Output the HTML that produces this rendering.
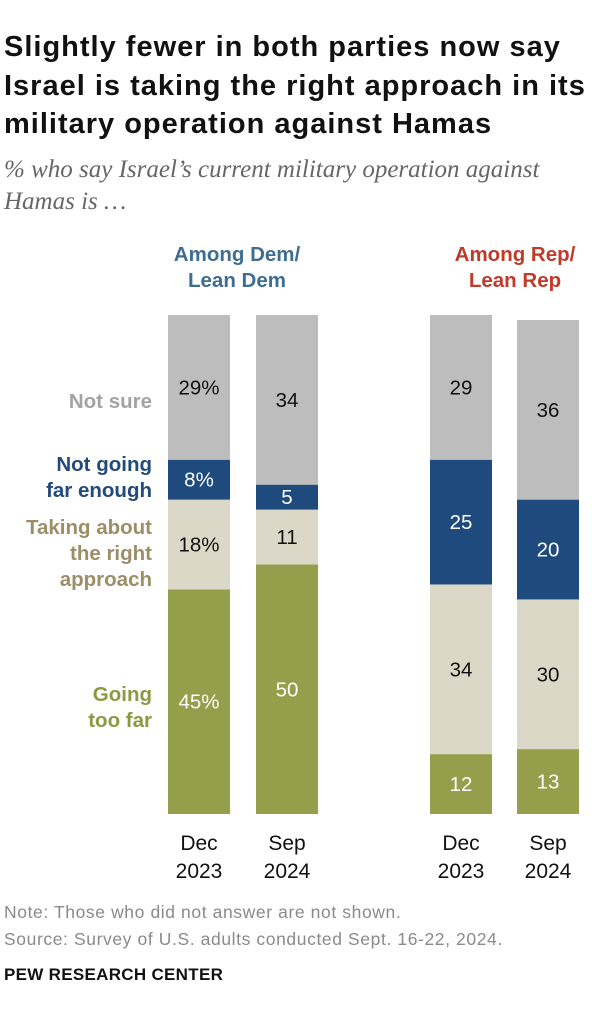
<!DOCTYPE html>
<html><head><meta charset="utf-8"><style>
body{margin:0;background:#fff;width:610px;height:1023px;overflow:hidden;font-family:"Liberation Sans",sans-serif;}
#title{position:absolute;left:4px;top:28px;font-size:29px;font-weight:bold;line-height:38.5px;color:#111;margin:0;white-space:nowrap;letter-spacing:1px;}
#sub{position:absolute;left:4px;top:154px;font-size:25px;font-style:italic;color:#666;line-height:32px;font-family:"Liberation Serif",serif;white-space:nowrap;}
svg{position:absolute;left:0;top:0;}
.note{position:absolute;left:4px;font-size:17.5px;color:#8a8a8a;letter-spacing:0.6px;white-space:nowrap;}
#brand{position:absolute;left:4px;top:965px;font-size:17px;font-weight:bold;color:#111;letter-spacing:0.3px;}
</style></head><body>
<h1 id="title">Slightly fewer in both parties now say<br>Israel is taking the right approach in its<br>military operation against Hamas</h1>
<div id="sub">% who say Israel’s current military operation against<br>Hamas is …</div>
<svg id="chart" width="610" height="1023"></svg>
<div class="note" style="top:902px">Note: Those who did not answer are not shown.</div>
<div class="note" style="top:929px">Source: Survey of U.S. adults conducted Sept. 16-22, 2024.</div>
<div id="brand">PEW RESEARCH CENTER</div>
<script>
const barLabels=["Dec|2023","Sep|2024","Dec|2023","Sep|2024"];
const goingTooFar=[45,50,12,13];
const rightApproach=[18,11,34,30];
const notFarEnough=[8,5,25,20];
const notSure=[29,34,29,36];
const showPct=[true,false,false,false];
const NS="http://www.w3.org/2000/svg";
const svg=document.getElementById('chart');
const xLeft=[168,256,430,517], bw=62, base=814, unit=4.99;
const y=v=>base-v*unit;
const series=[[goingTooFar,'#949e4b','#fff','going-too-far'],[rightApproach,'#dcd8c8','#111','right-approach'],[notFarEnough,'#1e4a7d','#fff','not-far-enough'],[notSure,'#bdbdbd','#111','not-sure']];
function mk(tag,attrs){const e=document.createElementNS(NS,tag);for(const k in attrs)e.setAttribute(k,attrs[k]);svg.appendChild(e);return e;}
for(let i=0;i<4;i++){
 let cum=0;
 series.forEach(([arr,fill,tc,nm])=>{
  const v=arr[i];
  const r=mk('rect',{x:xLeft[i],y:y(cum+v),width:bw,height:v*unit,fill:fill});
  
  
  const t=mk('text',{x:xLeft[i]+bw/2,y:y(cum+v/2)+7,'text-anchor':'middle','font-size':20.5,fill:tc});
  t.textContent=v+(showPct[i]?'%':'');
  
  
  cum+=v;
 });
 const [a,b]=barLabels[i].split('|');
 [a,b].forEach((s,j)=>{
  const t=mk('text',{x:xLeft[i]+bw/2,y:850+j*28,'text-anchor':'middle','font-size':21,fill:'#111'});
  t.textContent=s;
  
  
 });
}
function lbl(lines,yy,color,x,anchor,name){
 lines.forEach((s,j)=>{
  const t=mk('text',{x:x,y:yy+j*26,'text-anchor':anchor,'font-size':20.5,'font-weight':'bold',fill:color});
  t.textContent=s;
  
  
 });
}
lbl(["Among Dem/","Lean Dem"],261,'#3d6d91',237,'middle','dem-group-title');
lbl(["Among Rep/","Lean Rep"],261,'#c0392b',515,'middle','rep-group-title');
lbl(["Not sure"],408,'#a3a3a3',152,'end','legend-not-sure');
lbl(["Not going","far enough"],471,'#234a7c',152,'end','legend-not-far-enough');
lbl(["Taking about","the right","approach"],534,'#9c8e66',152,'end','legend-right-approach');
lbl(["Going","too far"],701,'#8a9a40',152,'end','legend-going-too-far');
</script>
</body></html>
